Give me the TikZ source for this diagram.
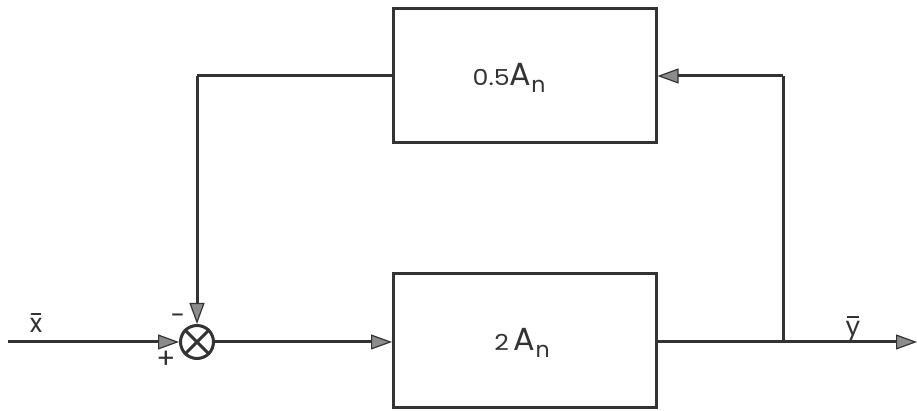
\documentclass[tikz,border=0pt]{standalone}
\usepackage{fontspec}
\setmainfont{Poppins}
\usetikzlibrary{arrows.meta}
\definecolor{ink}{gray}{0.2}
\definecolor{tipfill}{gray}{0.55}
\tikzset{
  blockbox/.style={draw=ink, line width=3pt, minimum width=263pt, minimum height=134pt, inner sep=0pt},
  wire/.style={draw=ink, line width=3pt},
  arr/.style={wire, -{Triangle[length=21pt,width=15pt,fill=tipfill,line width=1.2pt]}},
  lbl/.style={text=ink, inner sep=0pt},
}
\newcommand{\digs}[1]{\scalebox{1.15}[1]{\fontsize{22}{22}\selectfont #1}}
\newcommand{\An}{{\fontsize{32}{32}\selectfont A}\raisebox{-7pt}{\fontsize{22}{22}\selectfont n}}
\newcommand{\obar}[1]{\setbox0\hbox{#1}\vbox{\offinterlineskip\hbox to \wd0{\hfil\vrule width 0.85\wd0 height 2pt depth 0pt\hfil}\kern3.5pt\box0}}
\begin{document}
\begin{tikzpicture}[x=1pt,y=1pt]
\useasboundingbox (0,0) rectangle (917,411);
\node[lbl] (fbt) at (509,333) {\digs{0.5}\An};
\node[blockbox] (fb) at (524.5,335) {};
\node[blockbox] (fw) at (525,70) {};
\node[lbl] (fwt) at (522,68) {\digs{2}\hspace{5pt}\An};
\node[draw=ink, line width=3pt, circle, minimum size=33pt, inner sep=0pt] (sum) at (197,69) {};
\draw[ink, line width=3pt] (sum.north west) -- (sum.south east) (sum.north east) -- (sum.south west);
\coordinate (in) at (8,69);
\coordinate (tap) at (783,69);
\coordinate (out) at (917,69);
\coordinate (tr) at (783,335);
\coordinate (tl) at (197,335);
\draw[arr] (in) -- (sum.west);
\draw[arr] (sum.east) -- (fw.west |- sum.east);
\draw[wire] (fw.east |- tap) -- (tap);
\draw[arr] (tap) -- (out);
\draw[wire] (tap) -- (tr);
\draw[arr] (tr) -- (fb.east |- tr);
\draw[wire] (fb.west |- tl) -- (tl);
\draw[arr] (tl) -- (sum.north);
\node[lbl, anchor=base] (xl) at (36,78) {\fontsize{26}{26}\selectfont \obar{x}};
\node[lbl, anchor=base] (yl) at (853,75) {\fontsize{26}{26}\selectfont \obar{y}};
\node[lbl] (minus) at (178,92) {\fontsize{26}{26}\selectfont -};
\node[lbl] (plus) at (166,51) {\fontsize{28}{28}\selectfont +};
\end{tikzpicture}
\end{document}
